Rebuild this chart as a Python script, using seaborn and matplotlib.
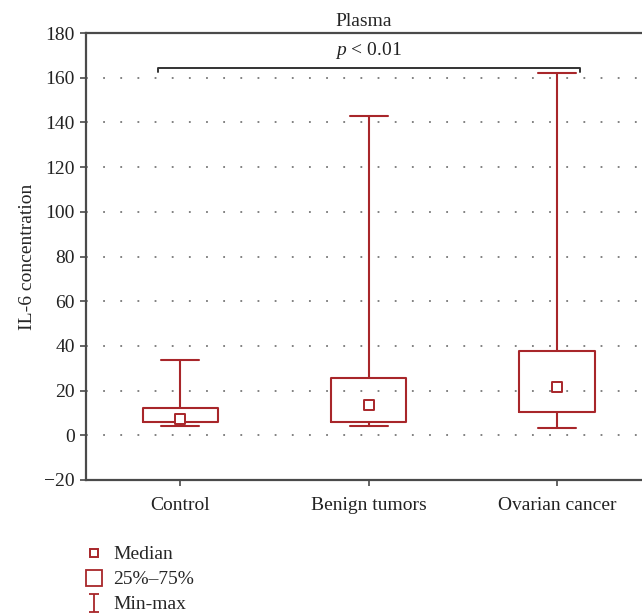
import numpy as np
import pandas as pd
import matplotlib
matplotlib.use("Agg")
import matplotlib.pyplot as plt
from matplotlib.lines import Line2D
from matplotlib.path import Path
import seaborn as sns

# ---- data ----
categories = ["Control", "Benign tumors", "Ovarian cancer"]
mins = [4.0, 4.0, 3.2]
q1s = [6.0, 6.0, 10.5]
medians = [7.4, 13.7, 21.7]
q3s = [12.1, 25.8, 37.9]
maxs = [33.7, 143.0, 162.2]
yticks = [-20, 0, 20, 40, 60, 80, 100, 120, 140, 160, 180]
p_text = "$p$ < 0.01"
bracket_y = 164.5
legend_labels = ["Median", "25%\u201375%", "Min-max"]

RED = "#A8262A"
SPINE = "#4a4a4a"
FS = 14

sns.set_theme(style="white")
plt.rcParams["font.family"] = ["Liberation Serif", "DejaVu Serif"]
plt.rcParams["mathtext.fontset"] = "custom"
plt.rcParams["mathtext.it"] = "Liberation Serif:italic"
plt.rcParams["mathtext.rm"] = "Liberation Serif"

# five summary points per group -> linear percentiles reproduce the stats exactly
rows = []
for c, a, b, m, d, e in zip(categories, mins, q1s, medians, q3s, maxs):
    for v in (a, b, m, d, e):
        rows.append({"group": c, "value": v})
df = pd.DataFrame(rows)
med_df = pd.DataFrame({"group": categories, "value": medians})

fig = plt.figure(figsize=(6.42, 6.16), dpi=100)
ax = fig.add_axes([86 / 642, (616 - 480) / 616, 1 - 86 / 642, (480 - 33) / 616])

sns.boxplot(data=df, x="group", y="value", order=categories, whis=(0, 100),
            width=0.4, fill=False, color=RED, linewidth=1.5, ax=ax,
            medianprops={"visible": False}, showfliers=False)
sns.scatterplot(data=med_df, x="group", y="value", marker="s", s=45,
                facecolor="white", edgecolor=RED, linewidth=1.4, ax=ax, zorder=5)

ax.set_xlim(-0.5, 2.45)
ax.set_ylim(-20, 180)
ax.set_yticks(yticks)
ax.set_xlabel("")
ax.set_ylabel("IL-6 concentration", fontsize=FS, labelpad=6)
ax.set_title("Plasma", fontsize=FS, pad=5)

for yv in yticks:
    if -20 < yv < 180:
        ax.axhline(yv, color="#777777", lw=1.3, ls=(0, (1, 8.5)), zorder=0)

for s in ["left", "top", "bottom"]:
    ax.spines[s].set_color(SPINE)
    ax.spines[s].set_linewidth(1.6)
ax.spines["right"].set_visible(False)
ax.tick_params(axis="both", which="both", direction="out", length=4, width=1.2,
               color=SPINE, labelsize=FS, labelcolor="#222222", left=True, bottom=True)
ax.tick_params(axis="x", pad=8)
ax.tick_params(axis="y", pad=4)

# significance bracket
xl, xr = -0.12, 2.12
ax.plot([xl, xl, xr, xr], [bracket_y - 1.8, bracket_y, bracket_y, bracket_y - 1.8],
        color="#333333", lw=1.4, clip_on=False)
ax.text((xl + xr) / 2, bracket_y + 3, p_text, ha="center", va="bottom",
        fontsize=FS, color="#222222")

# legend
ibeam = Path([(-0.6, 1), (0.6, 1), (0, 1), (0, -1), (-0.6, -1), (0.6, -1)],
             [Path.MOVETO, Path.LINETO, Path.MOVETO, Path.LINETO, Path.MOVETO, Path.LINETO])
handles = [
    Line2D([], [], ls="none", marker="s", markersize=5.5, markerfacecolor="white",
           markeredgecolor=RED, markeredgewidth=1.4),
    Line2D([], [], ls="none", marker="s", markersize=12, markerfacecolor="white",
           markeredgecolor=RED, markeredgewidth=1.3),
    Line2D([], [], ls="none", marker=ibeam, markersize=13, markerfacecolor="none",
           markeredgecolor=RED, markeredgewidth=1.3),
]
fig.legend(handles, legend_labels, loc="upper left", bbox_to_anchor=(0.126, 0.114),
           frameon=False, fontsize=FS, handlelength=1.3, handletextpad=0.35,
           labelspacing=0.38, borderaxespad=0, borderpad=0)

fig.savefig("out.png", dpi=100)
